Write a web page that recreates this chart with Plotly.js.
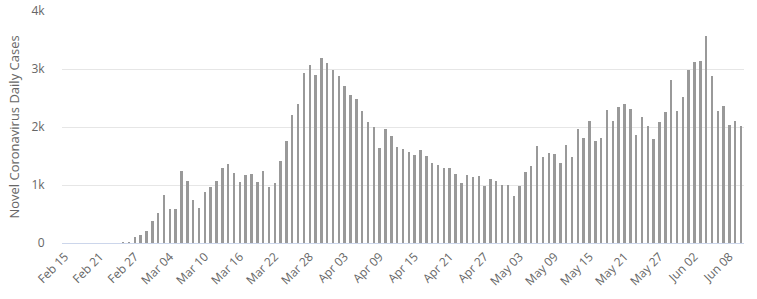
<!DOCTYPE html>
<html>
<head>
<meta charset="utf-8">
<script src="https://cdn.plot.ly/plotly-3.0.1.min.js"></script>
<style>
  html, body { margin: 0; padding: 0; background: #ffffff; }
  #chart { width: 757px; height: 299px; }
</style>
</head>
<body>
<div id="chart"></div>
<script>
// First day of the series (one bar per day)
const startDate = '2020-02-15';

// Daily new cases, Feb 15 .. Jun 10
const dailyCases = [
  0, 0, 0, 0, 0, 0, 0, 0, 0, 0,                 // Feb 15 - Feb 24
  20, 20, 106, 143, 205,                        // Feb 25 - Feb 29
  385, 523, 835, 586, 591, 1234, 1076, 743, 595, 881,
  958, 1075, 1289, 1365, 1209, 1053, 1178, 1192, 1046, 1237,
  966, 1028, 1411, 1762, 2206, 2389, 2926, 3076, 2901, 3186,
  3110,                                          // Mar 01 - Mar 31
  2987, 2875, 2715, 2560, 2483, 2274, 2089, 1997, 1634, 1972,
  1837, 1657, 1617, 1574, 1512, 1606, 1499, 1374, 1343, 1294,
  1297, 1194, 1030, 1168, 1134, 1153, 991, 1112, 1073, 993,     // Apr
  1006, 802, 976, 1223, 1323, 1680, 1485, 1556, 1529, 1383,
  1683, 1481, 1958, 1808, 2102, 1757, 1806, 2294, 2111, 2346,
  2392, 2311, 1869, 2180, 2023, 1787, 2080, 2258, 2819, 2282,
  2516,                                          // May
  2979, 3117, 3134, 3574, 2886, 2269, 2364, 2043, 2095, 2011   // Jun 01 - Jun 10
];

// Y-axis ticks
const yTickValues = [0, 1000, 2000, 3000, 4000];
const yTickLabels = ['0', '1k', '2k', '3k', '4k'];

const yTitle = 'Novel Coronavirus Daily Cases';

// Build the date list from the start date
const DAY = 86400000;
const start = Date.UTC(2020, 1, 15);
function fmt(ms) {
  const d = new Date(ms);
  const p = n => (n < 10 ? '0' : '') + n;
  return d.getUTCFullYear() + '-' + p(d.getUTCMonth() + 1) + '-' + p(d.getUTCDate());
}
const dates = dailyCases.map((_, i) => fmt(start + i * DAY));

const trace = {
  type: 'bar',
  x: dates,
  y: dailyCases,
  width: dates.map(() => DAY * 0.42),
  marker: { color: '#999999', line: { width: 0 } },
  hoverinfo: 'x+y'
};

const layout = {
  width: 757,
  height: 299,
  margin: { l: 62, r: 13, t: 11, b: 56, pad: 0 },
  paper_bgcolor: '#ffffff',
  plot_bgcolor: '#ffffff',
  showlegend: false,
  bargap: 0,
  font: { family: '"Open Sans", "DejaVu Sans", sans-serif', color: '#666666', size: 11 },
  xaxis: {
    type: 'date',
    range: ['2020-02-14 12:00', fmt(start + (dailyCases.length - 1) * DAY) + ' 12:00'],
    tick0: startDate,
    dtick: 6 * DAY,
    tickformat: '%b %d',
    tickangle: -45,
    showgrid: false,
    zeroline: false,
    showline: true,
    linecolor: '#ccd6eb',
    linewidth: 1,
    ticks: 'outside',
    ticklen: 1,
    tickcolor: 'rgba(0,0,0,0)',
    tickfont: { size: 12, color: '#666666' },
    fixedrange: true
  },
  yaxis: {
    range: [0, 4000],
    tickvals: yTickValues,
    ticktext: yTickLabels,
    showgrid: true,
    gridcolor: '#e6e6e6',
    gridwidth: 1,
    zeroline: false,
    showline: false,
    ticks: 'outside',
    ticklen: 14,
    tickcolor: 'rgba(0,0,0,0)',
    tickfont: { size: 12, color: '#666666' },
    title: { text: yTitle, font: { size: 13, color: '#666666' }, standoff: 8 },
    fixedrange: true
  }
};

Plotly.newPlot('chart', [trace], layout, { displayModeBar: false, staticPlot: true });
</script>
</body>
</html>
